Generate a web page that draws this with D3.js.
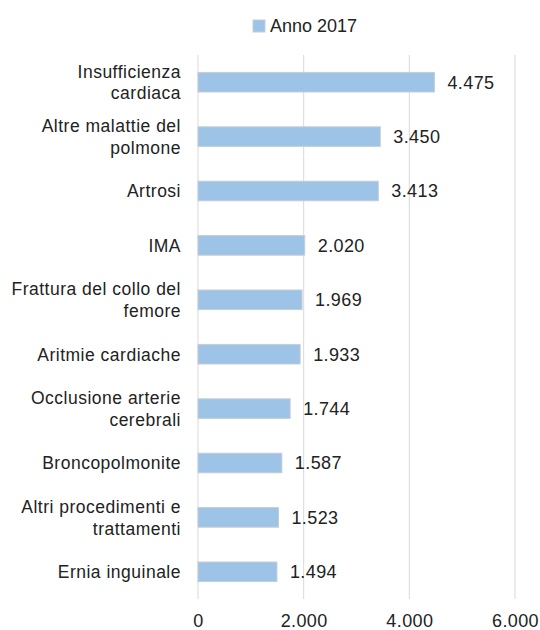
<!DOCTYPE html>
<html>
<head>
<meta charset="utf-8">
<script src="https://cdn.jsdelivr.net/npm/d3@7"></script>
<style>
  body { margin: 0; background: #fff; }
  text { font-family: "Liberation Sans", Arial, sans-serif; fill: #222; }
</style>
</head>
<body>
<div class="chartHolder"></div>
<script>
// data
let categories = [
  ["Insufficienza", "cardiaca"],
  ["Altre malattie del", "polmone"],
  ["Artrosi"],
  ["IMA"],
  ["Frattura del collo del", "femore"],
  ["Aritmie cardiache"],
  ["Occlusione arterie", "cerebrali"],
  ["Broncopolmonite"],
  ["Altri procedimenti e", "trattamenti"],
  ["Ernia inguinale"]
];
let values = [4475, 3450, 3413, 2020, 1969, 1933, 1744, 1587, 1523, 1494];
let xTicks = [0, 2000, 4000, 6000];
let seriesName = "Anno 2017";

let width = 540,
  height = 630,
  margin = { top: 55, right: 25, bottom: 31, left: 198 };

let itLocale = d3.formatLocale({ decimal: ",", thousands: ".", grouping: [3], currency: ["€", ""] });
let fmt = itLocale.format(",");

let svg = d3
  .select(".chartHolder")
  .append("svg")
  .attr("width", width)
  .attr("height", height);

// scales
let xScale = d3
  .scaleLinear()
  .domain([0, 6000])
  .range([margin.left, width - margin.right]);

let yScale = d3
  .scaleBand()
  .domain(d3.range(categories.length))
  .range([margin.top, height - margin.bottom])
  .paddingInner(0.64)
  .paddingOuter(0.32);

// gridlines
svg
  .append("g")
  .selectAll("line")
  .data(xTicks)
  .enter()
  .append("line")
  .attr("x1", (d) => xScale(d))
  .attr("x2", (d) => xScale(d))
  .attr("y1", margin.top)
  .attr("y2", height - margin.bottom)
  .attr("stroke", "#d9d9d9")
  .attr("stroke-width", 1);

// x axis
let xAxis = d3.axisBottom(xScale).tickValues(xTicks).tickFormat(fmt).tickSize(0).tickPadding(15);
let xAxisGroup = svg
  .append("g")
  .attr("transform", "translate(0," + (height - margin.bottom) + ")")
  .call(xAxis);
xAxisGroup.select(".domain").remove();
xAxisGroup
  .selectAll("text")
  .style("font-size", "18px")
  .style("letter-spacing", "0.4px")
  .attr("fill", "#222");

// bars
svg
  .append("g")
  .selectAll("rect")
  .data(values)
  .enter()
  .append("rect")
  .attr("x", xScale(0))
  .attr("y", (d, i) => yScale(i))
  .attr("width", (d) => xScale(d) - xScale(0))
  .attr("height", yScale.bandwidth())
  .attr("fill", "#9dc3e6")
  .attr("stroke", "#c6cdd6")
  .attr("stroke-width", 1);

// value labels
svg
  .append("g")
  .selectAll("text")
  .data(values)
  .enter()
  .append("text")
  .attr("x", (d) => xScale(d) + 13)
  .attr("y", (d, i) => yScale(i) + yScale.bandwidth() / 2)
  .attr("dy", "0.36em")
  .style("font-size", "18px")
  .style("letter-spacing", "0.4px")
  .text((d) => fmt(d));

// category labels
let catGroup = svg
  .append("g")
  .selectAll("text")
  .data(categories)
  .enter()
  .append("text")
  .attr("text-anchor", "end")
  .style("font-size", "17.5px")
  .style("letter-spacing", "0.5px")
  .attr("y", (d, i) => yScale(i) + yScale.bandwidth() / 2);

catGroup
  .selectAll("tspan")
  .data((d) => d)
  .enter()
  .append("tspan")
  .attr("x", 181)
  .attr("dy", (t, j, nodes) => {
    let n = nodes.length;
    return j === 0 ? (0.36 - (n - 1) * 0.62) + "em" : "1.24em";
  })
  .text((t) => t);

// legend
let legend = svg.append("g").attr("transform", "translate(253,20)");
legend
  .append("rect")
  .attr("width", 12)
  .attr("height", 12)
  .attr("fill", "#9dc3e6")
  .attr("stroke", "#c6cdd6");
legend
  .append("text")
  .attr("x", 17)
  .attr("y", 6)
  .attr("dy", "0.36em")
  .style("font-size", "18px")
  .text(seriesName);
</script>
</body>
</html>
